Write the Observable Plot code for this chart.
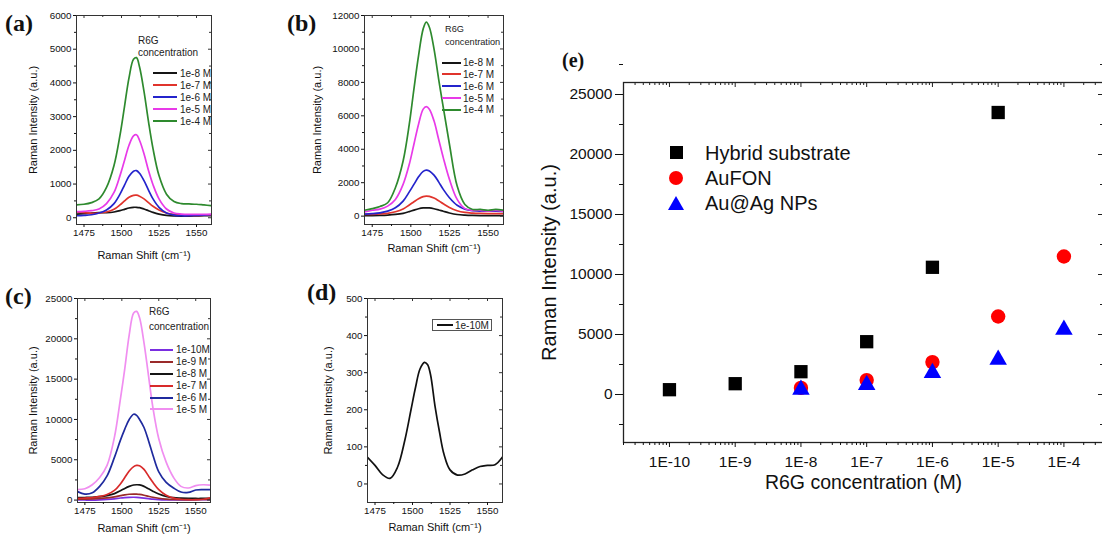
<!DOCTYPE html>
<html><head><meta charset="utf-8">
<script src="https://cdn.jsdelivr.net/npm/d3@7"></script>
<script src="https://cdn.jsdelivr.net/npm/@observablehq/plot@0.6"></script>
<style>
html,body{margin:0;padding:0;background:#fff;}
#root{position:relative;width:1102px;height:540px;overflow:hidden;background:#fff;font-family:"Liberation Sans",Arial,sans-serif;color:#111;}
.pl{position:absolute;}
.pl svg{max-width:none !important;overflow:visible;}
.tag{position:absolute;font-family:"Liberation Serif","Times New Roman",serif;font-weight:bold;line-height:1;color:#111;}
.ltitle{position:absolute;font-size:10px;color:#222;white-space:nowrap;}
.lrow{position:absolute;display:flex;align-items:center;font-size:10px;color:#222;white-space:nowrap;}
</style>
</head><body>
<div id="root"></div>
<script>
// ---------- shared Raman-shift axis ----------
const SHIFT = [1470,1475,1480,1485,1490,1495,1499,1502,1505,1508,1510,1512,1515,1518,1521,1525,1530,1535,1540,1545,1550,1555,1560];
const SHIFT_TICKS = [1475,1500,1525,1550];
const SHIFT_MINOR = [1487.5,1512.5,1537.5];

// ---------- panel (a) ----------
const A_LABELS = ["1e-8 M","1e-7 M","1e-6 M","1e-5 M","1e-4 M"];
const A_1e8 = [110,120,140,150,150,170,210,250,290,310,310,300,260,210,160,110,70,55,50,50,55,60,60];
const A_1e7 = [170,150,130,140,170,250,380,500,610,665,670,640,560,450,340,230,140,100,80,70,70,75,80];
const A_1e6 = [60,70,90,140,230,420,700,970,1230,1380,1400,1320,1100,820,560,310,140,80,60,60,70,80,90];
const A_1e5 = [180,190,210,260,420,750,1250,1700,2150,2430,2460,2300,1900,1400,980,560,260,140,110,100,100,100,110];
const A_1e4 = [380,400,450,560,900,1550,2450,3300,4150,4700,4750,4480,3750,2850,2050,1250,700,480,420,410,400,380,360];
const A_TICKS = [0,1000,2000,3000,4000,5000,6000];

// ---------- panel (b) ----------
const B_LABELS = ["1e-8 M","1e-7 M","1e-6 M","1e-5 M","1e-4 M"];
const B_1e8 = [30,30,40,60,100,170,270,360,440,490,500,490,440,370,290,190,100,60,40,30,30,30,30];
const B_1e7 = [100,110,130,170,260,430,670,860,1040,1170,1200,1180,1080,920,740,520,320,220,180,160,150,150,150];
const B_1e6 = [120,150,200,300,500,900,1450,1900,2350,2680,2750,2700,2450,2050,1600,1100,650,420,330,300,300,300,280];
const B_1e5 = [250,350,420,600,1000,1900,3100,4300,5500,6400,6550,6400,5700,4600,3500,2200,1000,450,350,350,300,350,300];
const B_1e4 = [350,450,580,800,1700,3300,5500,7600,9600,11200,11600,11300,10000,8200,6500,4300,1800,700,400,400,350,400,350];
const B_TICKS = [0,2000,4000,6000,8000,10000,12000];

// ---------- panel (c) ----------
const C_LABELS = ["1e-10M","1e-9 M","1e-8 M","1e-7 M","1e-6 M","1e-5 M"];
const C_1e10 = [30,10,0,30,80,160,260,310,340,350,340,310,250,180,110,50,20,10,20,30,40,40,50];
const C_1e9 = [100,120,150,200,280,400,550,650,720,750,740,700,600,470,350,230,130,80,60,50,60,80,100];
const C_1e8 = [300,320,350,420,550,800,1150,1450,1700,1870,1900,1880,1700,1400,1100,750,450,300,250,220,200,200,200];
const C_1e7 = [200,250,300,450,700,1200,2000,2800,3600,4150,4300,4250,3800,3000,2200,1300,600,250,100,50,50,100,300];
const C_1e6 = [1050,750,900,1700,3000,5300,7400,8800,10000,10650,10500,10000,9000,7400,5600,3500,2200,1500,1000,950,1250,1300,1300];
const C_1e5 = [1300,1400,1900,2800,4300,7800,12500,16300,20500,23200,23400,22600,19500,15500,11500,7600,4700,2800,1700,1500,1800,1900,1850];
const C_TICKS = [0,5000,10000,15000,20000,25000];

// ---------- panel (d) ----------
const D_LABELS = ["1e-10M"];
const D_1e10 = [72,50,25,15,45,120,200,260,310,328,322,295,210,140,80,38,24,27,38,47,50,52,73];
const D_TICKS = [0,100,200,300,400,500];

// ---------- panel (e) ----------
const CONC = [1e-10,1e-9,1e-8,1e-7,1e-6,1e-5,1e-4];
const CONC_LABELS = ["1E-10","1E-9","1E-8","1E-7","1E-6","1E-5","1E-4"];
const HYBRID = [400,900,1900,4400,10600,23500,null];
const AUFON = [null,null,550,1200,2700,6500,11500];
const AUAG = [null,null,400,800,1800,2900,5400];
const E_SERIES = ["Hybrid substrate","AuFON","Au@Ag NPs"];
const E_TICKS = [0,5000,10000,15000,20000,25000];

// ---------- styles ----------
const FONT = '"Liberation Sans", Arial, sans-serif';
const COL_A = ["#151515","#e0342c","#2424cc","#e83ae8","#2e8a2e"];
const COL_C = ["#7a2ee0","#9a2a2a","#151515","#d82a2a","#1f2a9e","#f08ef0"];
const COL_D = ["#111111"];
const COL_E = ["#000000","#ff0000","#0000ff"];
const plain = d => String(d);

const root = document.getElementById("root");

function place(node, left, top) {
  const d = document.createElement("div");
  d.className = "pl";
  d.style.left = left + "px";
  d.style.top = top + "px";
  d.appendChild(node);
  root.appendChild(d);
}

function spectrumPanel(cfg) {
  const {width, height, ml, mr, mt, mb, yDomain, yTicks, labels, values, colors, ytDx, xtDy} = cfg;
  const rows = [];
  labels.forEach((lab, k) => values[k].forEach((v, i) => rows.push({x: SHIFT[i], y: v, s: lab})));
  const yMinor = yTicks.slice(0, -1).map((t, i) => (t + yTicks[i + 1]) / 2);
  const fw = width - ml - mr, fh = height - mt - mb;
  return Plot.plot({
    width, height, marginLeft: ml, marginRight: mr, marginTop: mt, marginBottom: mb,
    style: {fontFamily: FONT, fontSize: "9.8px", background: "transparent", overflow: "visible", color: "#111"},
    x: {domain: [1470, 1560]},
    y: {domain: yDomain},
    color: {domain: labels, range: colors},
    marks: [
      Plot.line(rows, {x: "x", y: "y", z: "s", stroke: "s", curve: "catmull-rom", strokeWidth: 1.7, clip: true}),
      Plot.frame({stroke: "#333", strokeWidth: 1}),
      Plot.axisX({ticks: SHIFT_TICKS, tickSize: 3, tickPadding: 2, tickFormat: plain, label: null}),
      Plot.axisX({ticks: SHIFT_MINOR, tickSize: 2, tickFormat: () => "", label: null}),
      Plot.axisY({ticks: yTicks, tickSize: 3, tickPadding: 2, tickFormat: plain, label: null}),
      Plot.axisY({ticks: yMinor, tickSize: 2, tickFormat: () => "", label: null}),
      Plot.tickX(SHIFT_TICKS, {x: d => d, insetBottom: fh - 3, stroke: "#333"}),
      Plot.tickX(SHIFT_MINOR, {x: d => d, insetBottom: fh - 2, stroke: "#333"}),
      Plot.tickY(yTicks, {y: d => d, insetLeft: fw - 3, stroke: "#333"}),
      Plot.tickY(yMinor, {y: d => d, insetLeft: fw - 2, stroke: "#333"}),
      Plot.text(["Raman Shift (cm\u207B\u00B9)"], {text: d => d, frameAnchor: "bottom", dy: xtDy, textAnchor: "middle", lineAnchor: "middle", fontSize: 11}),
      Plot.text(["Raman Intensity (a.u.)"], {text: d => d, frameAnchor: "left", dx: ytDx, rotate: -90, textAnchor: "middle", lineAnchor: "middle", fontSize: 11})
    ]
  });
}

function tag(text, left, top, size) {
  const d = document.createElement("div");
  d.className = "tag";
  d.style.left = left + "px";
  d.style.top = top + "px";
  d.style.fontSize = size + "px";
  d.textContent = text;
  root.appendChild(d);
}

function legendTitle(left, top, lh, size) {
  const d = document.createElement("div");
  d.className = "ltitle";
  d.style.left = left + "px";
  d.style.top = top + "px";
  d.style.lineHeight = lh + "px";
  d.style.fontSize = size + "px";
  d.innerHTML = "R6G<br>concentration";
  root.appendChild(d);
}

function lineLegend(labels, colors, left, top, rowH, lineW, gap) {
  labels.forEach((lab, i) => {
    const r = document.createElement("div");
    r.className = "lrow";
    r.style.left = left + "px";
    r.style.top = (top + i * rowH) + "px";
    r.style.height = rowH + "px";
    const ln = document.createElement("span");
    ln.style.cssText = `display:inline-block;width:${lineW}px;height:2px;background:${colors[i]};margin-right:${gap}px`;
    r.appendChild(ln);
    r.appendChild(document.createTextNode(lab));
    root.appendChild(r);
  });
}

// (a)
place(spectrumPanel({width: 270, height: 270, ml: 76, mr: 59, mt: 15, mb: 46,
  yDomain: [-200, 6000], yTicks: A_TICKS, labels: A_LABELS,
  values: [A_1e8, A_1e7, A_1e6, A_1e5, A_1e4], colors: COL_A, ytDx: -43, xtDy: 31}), 0, 0);
// (b)
place(spectrumPanel({width: 260, height: 270, ml: 94, mr: 27, mt: 15, mb: 46,
  yDomain: [-500, 12000], yTicks: B_TICKS, labels: B_LABELS,
  values: [B_1e8, B_1e7, B_1e6, B_1e5, B_1e4], colors: COL_A, ytDx: -47, xtDy: 24}), 270, 0);
// (c)
place(spectrumPanel({width: 270, height: 270, ml: 77, mr: 60, mt: 28, mb: 38,
  yDomain: [-300, 25000], yTicks: C_TICKS, labels: C_LABELS,
  values: [C_1e10, C_1e9, C_1e8, C_1e7, C_1e6, C_1e5], colors: COL_C, ytDx: -44, xtDy: 26}), 0, 270);
// (d)
place(spectrumPanel({width: 260, height: 270, ml: 97, mr: 28, mt: 28, mb: 38,
  yDomain: [-50, 500], yTicks: D_TICKS, labels: D_LABELS,
  values: [D_1e10], colors: COL_D, ytDx: -39, xtDy: 25}), 270, 270);

// (e)
(function () {
  const width = 580, height = 480, ml = 93, mr = 7, mt = 52, mb = 68;
  const fw = width - ml - mr, fh = height - mt - mb;
  const xDomain = [2e-11, 4e-4];
  const minorX = [];
  for (let e = -11; e <= -4; e++) for (let k = 2; k <= 9; k++) {
    const v = k * Math.pow(10, e);
    if (v >= xDomain[0] && v <= xDomain[1]) minorX.push(v);
  }
  const minorY = [-2500, ...E_TICKS.map(t => t + 2500)];
  const pts = (arr) => CONC.map((c, i) => ({c, v: arr[i]})).filter(d => d.v != null);
  const svg = Plot.plot({
    width, height, marginLeft: ml, marginRight: mr, marginTop: mt, marginBottom: mb,
    style: {fontFamily: FONT, fontSize: "15.5px", background: "transparent", overflow: "visible", color: "#111"},
    x: {type: "log", domain: xDomain},
    y: {domain: [-4000, 26000]},
    marks: [
      Plot.frame({stroke: "#222", strokeWidth: 1.3}),
      Plot.axisX({ticks: CONC, tickSize: 5, tickPadding: 8, tickFormat: d => CONC_LABELS[CONC.indexOf(d)], label: null}),
      Plot.axisX({ticks: minorX, tickSize: 3, tickFormat: () => "", label: null}),
      Plot.axisY({ticks: E_TICKS, tickSize: 8, tickPadding: 3, tickFormat: plain, label: null}),
      Plot.axisY({ticks: minorY, tickSize: 4, tickFormat: () => "", label: null}),
      Plot.tickX(CONC, {x: d => d, insetBottom: fh - 5, stroke: "#222"}),
      Plot.tickX(minorX, {x: d => d, insetBottom: fh - 3, stroke: "#222"}),
      Plot.tickY(E_TICKS, {y: d => d, insetLeft: fw - 5, stroke: "#222"}),
      Plot.tickY(minorY, {y: d => d, insetLeft: fw - 3, stroke: "#222"}),
      Plot.text(["R6G concentration (M)"], {text: d => d, frameAnchor: "bottom", dy: 40, textAnchor: "middle", lineAnchor: "middle", fontSize: 19.5}),
      Plot.text(["Raman Intensity (a.u.)"], {text: d => d, frameAnchor: "left", dx: -74, rotate: -90, textAnchor: "middle", lineAnchor: "middle", fontSize: 20}),
      Plot.dot(pts(HYBRID), {x: "c", y: "v", symbol: "square", fill: COL_E[0], r: 7.5}),
      Plot.dot(pts(AUFON), {x: "c", y: "v", symbol: "circle", fill: COL_E[1], r: 7.2}),
      Plot.dot(pts(AUAG), {x: "c", y: "v", symbol: "triangle", fill: COL_E[2], r: 6.5})
    ]
  });
  place(svg, 530, 30);
})();

// panel tags
tag("(a)", 5, 11, 24);
tag("(b)", 287, 11, 24);
tag("(c)", 5, 284, 24);
tag("(d)", 307, 280, 24);
tag("(e)", 562, 50, 20);

// line legends
legendTitle(138, 35, 12, 10);
lineLegend(A_LABELS, COL_A, 153, 67, 12, 24, 3);
legendTitle(445, 22.5, 13, 9.2);
lineLegend(B_LABELS, COL_A, 442, 56.8, 11.8, 19, 2);
legendTitle(149, 304, 15, 10);
lineLegend(C_LABELS, COL_C, 150, 344, 11.9, 23, 3);

// (d) boxed legend
(function () {
  const box = document.createElement("div");
  box.style.cssText = "position:absolute;left:432px;top:319px;width:58px;height:10px;border:1px solid #555;display:flex;align-items:center;font-size:10px;color:#222;white-space:nowrap;";
  const ln = document.createElement("span");
  ln.style.cssText = `display:inline-block;width:16px;height:2px;background:${COL_D[0]};margin:0 2px 0 4px`;
  box.appendChild(ln);
  box.appendChild(document.createTextNode(D_LABELS[0]));
  root.appendChild(box);
})();

// (e) symbol legend
(function () {
  const shapes = [
    "width:13px;height:13px;background:" + COL_E[0] + ";",
    "width:14px;height:14px;border-radius:50%;background:" + COL_E[1] + ";",
    "width:0;height:0;border-left:8px solid transparent;border-right:8px solid transparent;border-bottom:14px solid " + COL_E[2] + ";"
  ];
  E_SERIES.forEach((name, i) => {
    const cy = 153 + i * 25;
    const s = document.createElement("div");
    s.style.cssText = "position:absolute;left:" + (i === 0 ? 669.5 : i === 1 ? 669 : 668) + "px;top:" + (cy - 7) + "px;" + shapes[i];
    root.appendChild(s);
    const t = document.createElement("div");
    t.style.cssText = "position:absolute;left:705px;top:" + (cy - 11) + "px;font-size:20px;line-height:22px;color:#111;white-space:nowrap;";
    t.textContent = name;
    root.appendChild(t);
  });
})();
</script>
</body></html>
